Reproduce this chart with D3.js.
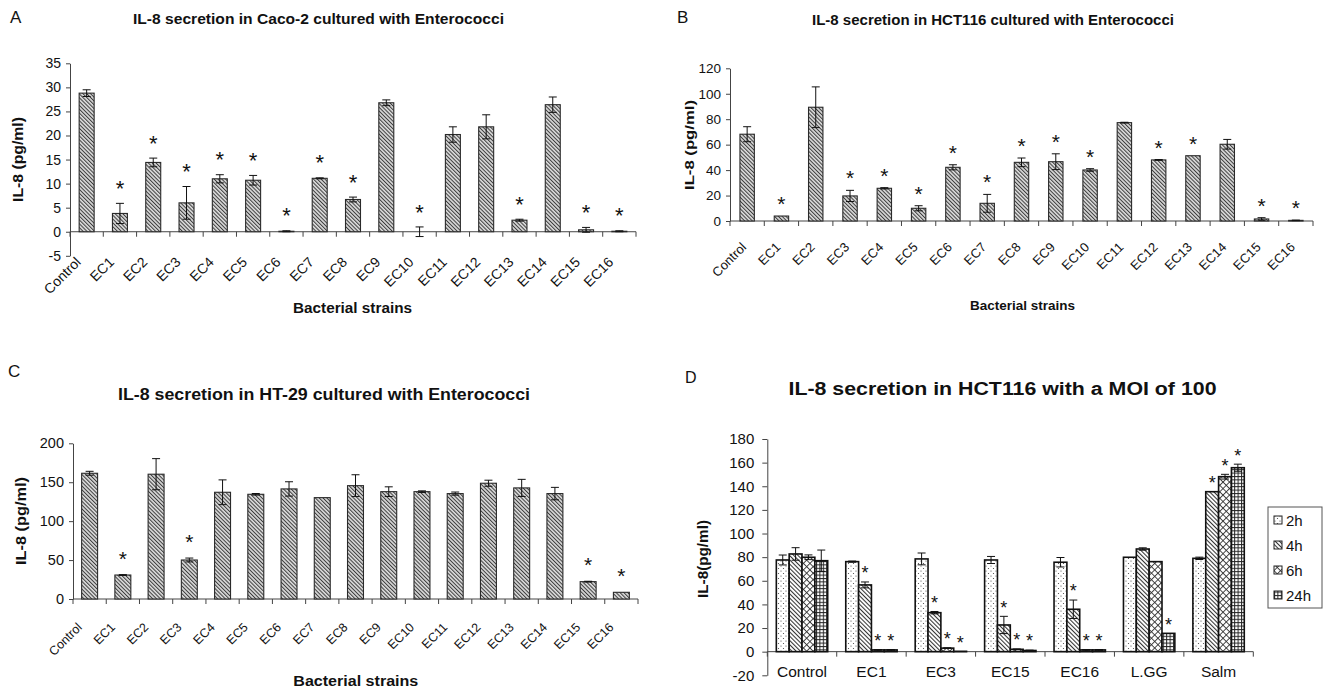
<!DOCTYPE html>
<html>
<head>
<meta charset="utf-8">
<script src="https://cdn.jsdelivr.net/npm/d3@7"></script>
<style>
  body { margin: 0; background: #fff; }
  svg { display: block; }
  text { font-family: "Liberation Sans", Arial, sans-serif; fill: #111; }
</style>
</head>
<body>
<svg id="fig" width="1324" height="691"></svg>
<script>
// Strains used in panels A-C
const strains = ['Control', 'EC1', 'EC2', 'EC3', 'EC4', 'EC5', 'EC6', 'EC7', 'EC8',
    'EC9', 'EC10', 'EC11', 'EC12', 'EC13', 'EC14', 'EC15', 'EC16'];

// A - Caco-2
const cacoMean = [28.8, 3.8, 14.4, 6.0, 11.0, 10.7, 0.1, 11.1, 6.7, 26.8, 0.0, 20.2, 21.8, 2.4, 26.4, 0.4, 0.1];
const cacoErr  = [0.7, 2.1, 0.9, 3.4, 0.85, 1.0, 0.1, 0.1, 0.5, 0.6, 1.0, 1.6, 2.5, 0.2, 1.6, 0.5, 0.1];
const cacoSig  = [0, 1, 1, 1, 1, 1, 1, 1, 1, 0, 1, 0, 0, 1, 0, 1, 1];

// B - HCT116
const hctMean = [68.2, 3.9, 89.4, 19.7, 25.7, 10.0, 42.2, 13.9, 46.1, 46.6, 40.1, 77.3, 48.0, 51.3, 60.3, 1.6, 0.5];
const hctErr  = [5.9, 0, 16, 4.4, 0.5, 2, 2, 7, 3.4, 6.2, 1, 0.3, 0.3, 0, 3.8, 1, 0.2];
const hctSig  = [0, 1, 0, 1, 1, 1, 1, 1, 1, 1, 1, 0, 1, 1, 0, 1, 1];

// C - HT-29
const ht29Mean = [161.5, 30.8, 160.3, 50.1, 137.1, 134.5, 141.4, 130.2, 145.6, 137.9, 137.9, 135.4, 148.7, 142.7, 135.4, 22.3, 8.6];
const ht29Err  = [2.5, 0.5, 20, 2.5, 15.9, 1, 9.2, 0, 14, 6.2, 1, 2, 3.9, 11, 8, 0.5, 0];
const ht29Sig  = [0, 1, 0, 1, 0, 0, 0, 0, 0, 0, 0, 0, 0, 0, 0, 1, 1];

// D - HCT116, MOI 100, time course
const moiGroups = ['Control', 'EC1', 'EC3', 'EC15', 'EC16', 'L.GG', 'Salm'];
const moiTimes = ['2h', '4h', '6h', '24h'];
const moi2h     = [77.6, 76.2, 78.5, 77.6, 75.7, 79.9, 79.0];
const moi2hErr  = [4.2, 0.5, 5, 3, 4, 0, 1];
const moi2hSig  = [0, 0, 0, 0, 0, 0, 0];
const moi4h     = [82.7, 56.5, 33.0, 22.6, 35.9, 86.9, 135.4];
const moi4hErr  = [5.3, 2.5, 1, 7.3, 7.8, 1, 0];
const moi4hSig  = [0, 1, 1, 1, 1, 0, 1];
const moi6h     = [79.9, 1.5, 3.0, 2.0, 1.5, 76.2, 148.1];
const moi6hErr  = [2, 0.3, 0.3, 0.3, 0.3, 0, 2];
const moi6hSig  = [0, 1, 1, 1, 1, 0, 1];
const moi24h    = [77.0, 1.5, 0.3, 1.0, 1.5, 15.5, 155.7];
const moi24hErr = [9, 0.3, 0, 0.3, 0.3, 0, 3];
const moi24hSig = [0, 1, 1, 1, 1, 1, 1];

const svg = d3.select('#fig');
const defs = svg.append('defs');
const plainNum = d => String(d);   // keep hyphen-minus like the original

// fill patterns
function makePattern(id, size, rotate, bg, draw) {
    const p = defs.append('pattern')
        .attr('id', id)
        .attr('patternUnits', 'userSpaceOnUse')
        .attr('width', size)
        .attr('height', size);
    if (rotate) p.attr('patternTransform', `rotate(${rotate})`);
    p.append('rect').attr('width', size).attr('height', size).attr('fill', bg);
    draw(p, size);
}
makePattern('hatchAC', 2.7, -45, '#dadada', (p, s) => {
    p.append('line').attr('x1', 0.5).attr('x2', 0.5).attr('y1', 0).attr('y2', s)
        .attr('stroke', '#3c3c3c').attr('stroke-width', 1);
});
makePattern('hatch', 3.0, -45, '#fff', (p, s) => {
    p.append('line').attr('x1', 0.5).attr('x2', 0.5).attr('y1', 0).attr('y2', s)
        .attr('stroke', '#333').attr('stroke-width', 1.1);
});
makePattern('dots', 5, 0, '#fff', (p) => {
    p.append('circle').attr('cx', 1).attr('cy', 1).attr('r', 0.6).attr('fill', '#444');
    p.append('circle').attr('cx', 3.5).attr('cy', 3.5).attr('r', 0.6).attr('fill', '#444');
});
makePattern('cross', 4.6, 45, '#fff', (p, s) => {
    p.append('line').attr('x1', 0.5).attr('x2', 0.5).attr('y1', 0).attr('y2', s)
        .attr('stroke', '#333').attr('stroke-width', 0.9);
    p.append('line').attr('y1', 0.5).attr('y2', 0.5).attr('x1', 0).attr('x2', s)
        .attr('stroke', '#333').attr('stroke-width', 0.9);
});
makePattern('grid', 3.4, 0, '#fff', (p, s) => {
    p.append('line').attr('x1', 0.5).attr('x2', 0.5).attr('y1', 0).attr('y2', s)
        .attr('stroke', '#222').attr('stroke-width', 1);
    p.append('line').attr('y1', 0.5).attr('y2', 0.5).attr('x1', 0).attr('x2', s)
        .attr('stroke', '#222').attr('stroke-width', 1);
});

function addText(g, o) {
    const t = g.append('text')
        .attr('x', o.x).attr('y', o.y)
        .attr('text-anchor', o.anchor || 'start')
        .style('font-size', o.size + 'px')
        .style('font-weight', o.bold ? 'bold' : 'normal')
        .text(o.text);
    if (o.len) t.attr('textLength', o.len).attr('lengthAdjust', 'spacingAndGlyphs');
    if (o.rotate) t.attr('transform', `rotate(${o.rotate},${o.x},${o.y})`);
    return t;
}

// Panels A-C: single series per strain
function drawStrainPanel(cfg, means, errs, sigs) {
    const g = svg.append('g');
    const rows = strains.map((s, i) => ({ name: s, v: means[i], e: errs[i], sig: sigs[i] }));

    const x = d3.scaleBand()
        .domain(strains)
        .range([cfg.x0, cfg.x1])
        .paddingInner(cfg.pad)
        .paddingOuter(cfg.pad / 2);
    const y = d3.scaleLinear().domain(cfg.domain).range([cfg.yBottom, cfg.yTop]);

    // y axis
    const yAxis = g.append('g')
        .attr('transform', `translate(${cfg.x0},0)`)
        .call(d3.axisLeft(y).tickValues(d3.range(cfg.domain[0], cfg.domain[1] + 1, cfg.step))
            .tickFormat(plainNum).tickSize(4).tickSizeOuter(0).tickPadding(5));
    yAxis.select('.domain').attr('stroke', '#444');
    yAxis.selectAll('.tick line').attr('stroke', '#444');
    yAxis.selectAll('text').style('font-size', cfg.tickSize + 'px')
        .style('font-family', '"Liberation Sans", Arial, sans-serif').attr('fill', '#111');

    // x axis at value 0, with ticks between categories
    const y0 = y(0);
    g.append('line').attr('x1', cfg.x0).attr('x2', cfg.x1).attr('y1', y0).attr('y2', y0)
        .attr('stroke', '#444');
    const gap = (x.step() - x.bandwidth()) / 2;
    const bounds = strains.map(d => x(d) - gap).concat([x(strains[strains.length - 1]) + x.bandwidth() + gap]);
    g.selectAll('.xtick').data(bounds).enter().append('line')
        .attr('x1', d => d).attr('x2', d => d)
        .attr('y1', y0).attr('y2', y0 + 5)
        .attr('stroke', '#444');

    // bars
    g.selectAll('.bar').data(rows).enter().append('rect')
        .attr('x', d => x(d.name))
        .attr('width', x.bandwidth())
        .attr('y', d => y(Math.max(0, d.v)))
        .attr('height', d => Math.abs(y(d.v) - y0))
        .attr('fill', 'url(#hatchAC)')
        .attr('stroke', '#2a2a2a')
        .attr('stroke-width', 1.1);

    // error bars
    const eb = g.selectAll('.err').data(rows.filter(d => d.e > 0)).enter().append('g')
        .attr('stroke', '#111').attr('stroke-width', 1);
    const cx = d => x(d.name) + x.bandwidth() / 2;
    eb.append('line').attr('x1', cx).attr('x2', cx)
        .attr('y1', d => y(d.v + d.e)).attr('y2', d => y(d.v - d.e));
    eb.append('line').attr('x1', d => cx(d) - 4).attr('x2', d => cx(d) + 4)
        .attr('y1', d => y(d.v + d.e)).attr('y2', d => y(d.v + d.e));
    eb.append('line').attr('x1', d => cx(d) - 4).attr('x2', d => cx(d) + 4)
        .attr('y1', d => y(d.v - d.e)).attr('y2', d => y(d.v - d.e));

    // significance marks
    g.selectAll('.star').data(rows.filter(d => d.sig)).enter().append('text')
        .attr('x', cx)
        .attr('y', d => y(d.v + d.e) - cfg.starGap + 0.575 * cfg.starSize)
        .attr('text-anchor', 'middle')
        .style('font-size', cfg.starSize + 'px')
        .text('*');

    // category labels
    g.selectAll('.xl').data(strains).enter().append('text')
        .attr('transform', d => `translate(${x(d) + x.bandwidth() / 2 + cfg.labDx},${cfg.labY}) rotate(-45)`)
        .attr('text-anchor', 'end')
        .style('font-size', cfg.labSize + 'px')
        .text(d => d);

    addText(g, { x: cfg.letterX, y: cfg.letterY, size: 17, text: cfg.letter });
    addText(g, Object.assign({ anchor: 'middle', bold: true }, cfg.title));
    addText(g, Object.assign({ anchor: 'middle', bold: true, rotate: -90, text: 'IL-8 (pg/ml)' }, cfg.yTitle));
    addText(g, Object.assign({ anchor: 'middle', bold: true, text: 'Bacterial strains' }, cfg.xTitle));
}

drawStrainPanel({
    letter: 'A', letterX: 10, letterY: 22.5,
    x0: 70, x1: 636, pad: 0.55, domain: [-5, 35], step: 5, yTop: 63.3, yBottom: 255.8,
    tickSize: 14, labSize: 14, labDx: -5, labY: 263, starSize: 22, starGap: 20,
    title: { x: 318.5, y: 24, size: 15, len: 371, text: 'IL-8 secretion in Caco-2 cultured with Enterococci' },
    yTitle: { x: 23, y: 159.5, size: 14, len: 85 },
    xTitle: { x: 352.5, y: 313, size: 14, len: 119 }
}, cacoMean, cacoErr, cacoSig);

drawStrainPanel({
    letter: 'B', letterX: 677, letterY: 22.7,
    x0: 730, x1: 1313, pad: 0.58, domain: [0, 120], step: 20, yTop: 68.3, yBottom: 221,
    tickSize: 13.5, labSize: 13, labDx: 0, labY: 248, starSize: 21, starGap: 17,
    title: { x: 993, y: 25, size: 14.5, len: 362, text: 'IL-8 secretion in HCT116 cultured with Enterococci' },
    yTitle: { x: 694, y: 145, size: 13.5, len: 90 },
    xTitle: { x: 1022.5, y: 310, size: 13.5, len: 105 }
}, hctMean, hctErr, hctSig);

drawStrainPanel({
    letter: 'C', letterX: 8, letterY: 377,
    x0: 73, x1: 638, pad: 0.52, domain: [0, 200], step: 50, yTop: 443.3, yBottom: 599,
    tickSize: 14.5, labSize: 12.5, labDx: -7, labY: 628, starSize: 21, starGap: 21,
    title: { x: 324, y: 400, size: 16, len: 412, text: 'IL-8 secretion in HT-29 cultured with Enterococci' },
    yTitle: { x: 26, y: 521, size: 14, len: 88 },
    xTitle: { x: 355.8, y: 686, size: 14, len: 125 }
}, ht29Mean, ht29Err, ht29Sig);

// Panel D: grouped bars over time
(function drawMoiPanel() {
    const g = svg.append('g');
    const series = [
        { time: '2h', fill: 'url(#dots)', v: moi2h, e: moi2hErr, s: moi2hSig },
        { time: '4h', fill: 'url(#hatch)', v: moi4h, e: moi4hErr, s: moi4hSig },
        { time: '6h', fill: 'url(#cross)', v: moi6h, e: moi6hErr, s: moi6hSig },
        { time: '24h', fill: 'url(#grid)', v: moi24h, e: moi24hErr, s: moi24hSig }
    ];
    const rows = [];
    moiGroups.forEach((grp, i) => {
        series.forEach(se => rows.push({ grp, time: se.time, fill: se.fill, v: se.v[i], e: se.e[i], sig: se.s[i] }));
    });

    const x0 = d3.scaleBand().domain(moiGroups).range([767.3, 1253.3]).paddingInner(0.26).paddingOuter(0.13);
    const x1 = d3.scaleBand().domain(moiTimes).range([0, x0.bandwidth()]);
    const y = d3.scaleLinear().domain([-20, 180]).range([675.3, 439]);

    const yAxis = g.append('g')
        .attr('transform', 'translate(767.3,0)')
        .call(d3.axisLeft(y).tickValues(d3.range(-20, 181, 20)).tickFormat(plainNum)
            .tickSize(5).tickSizeOuter(0).tickPadding(8));
    yAxis.select('.domain').attr('stroke', '#444');
    yAxis.selectAll('.tick line').attr('stroke', '#444');
    yAxis.selectAll('text').style('font-size', '15px')
        .style('font-family', '"Liberation Sans", Arial, sans-serif').attr('fill', '#111');

    const y0 = y(0);
    g.append('line').attr('x1', 767.3).attr('x2', 1253.3).attr('y1', y0).attr('y2', y0).attr('stroke', '#444');
    const gap = (x0.step() - x0.bandwidth()) / 2;
    const bounds = moiGroups.map(d => x0(d) - gap).concat([x0(moiGroups[moiGroups.length - 1]) + x0.bandwidth() + gap]);
    g.selectAll('.xtick').data(bounds).enter().append('line')
        .attr('x1', d => d).attr('x2', d => d).attr('y1', y0).attr('y2', y0 + 5).attr('stroke', '#444');

    const bx = d => x0(d.grp) + x1(d.time);
    const cx = d => bx(d) + x1.bandwidth() / 2;
    g.selectAll('.bar').data(rows).enter().append('rect')
        .attr('x', bx)
        .attr('width', x1.bandwidth())
        .attr('y', d => y(d.v))
        .attr('height', d => y0 - y(d.v))
        .attr('fill', d => d.fill)
        .attr('stroke', '#111')
        .attr('stroke-width', 1.6);

    const eb = g.selectAll('.err').data(rows.filter(d => d.e > 0)).enter().append('g')
        .attr('stroke', '#111').attr('stroke-width', 1);
    eb.append('line').attr('x1', cx).attr('x2', cx)
        .attr('y1', d => y(d.v + d.e)).attr('y2', d => y(d.v - d.e));
    eb.append('line').attr('x1', d => cx(d) - 4).attr('x2', d => cx(d) + 4)
        .attr('y1', d => y(d.v + d.e)).attr('y2', d => y(d.v + d.e));
    eb.append('line').attr('x1', d => cx(d) - 4).attr('x2', d => cx(d) + 4)
        .attr('y1', d => y(d.v - d.e)).attr('y2', d => y(d.v - d.e));

    g.selectAll('.star').data(rows.filter(d => d.sig)).enter().append('text')
        .attr('x', cx)
        .attr('y', d => y(d.v + d.e) - 13 + 0.575 * 18)
        .attr('text-anchor', 'middle')
        .style('font-size', '18px')
        .text('*');

    g.selectAll('.xl').data(moiGroups).enter().append('text')
        .attr('x', d => x0(d) + x0.bandwidth() / 2)
        .attr('y', 677)
        .attr('text-anchor', 'middle')
        .style('font-size', '15.5px')
        .text(d => d);

    // legend
    const lg = g.append('g').attr('transform', 'translate(1268,507)');
    lg.append('rect').attr('width', 54).attr('height', 101)
        .attr('fill', '#fff').attr('stroke', '#555').attr('stroke-width', 1);
    series.forEach((se, i) => {
        const row = lg.append('g').attr('transform', `translate(6,${13 + i * 25})`);
        row.append('rect').attr('y', -4).attr('width', 8).attr('height', 8)
            .attr('fill', se.fill).attr('stroke', '#222').attr('stroke-width', 1);
        row.append('text').attr('x', 12).attr('y', 5.5).style('font-size', '15px').text(se.time);
    });

    addText(g, { x: 685, y: 382.7, size: 16, text: 'D' });
    addText(g, { x: 1002.5, y: 395, size: 18, bold: true, anchor: 'middle', len: 428,
        text: 'IL-8 secretion in HCT116 with a MOI of 100' });
    addText(g, { x: 708, y: 559, size: 14, bold: true, anchor: 'middle', rotate: -90, len: 78,
        text: 'IL-8(pg/ml)' });
})();
</script>
</body>
</html>
